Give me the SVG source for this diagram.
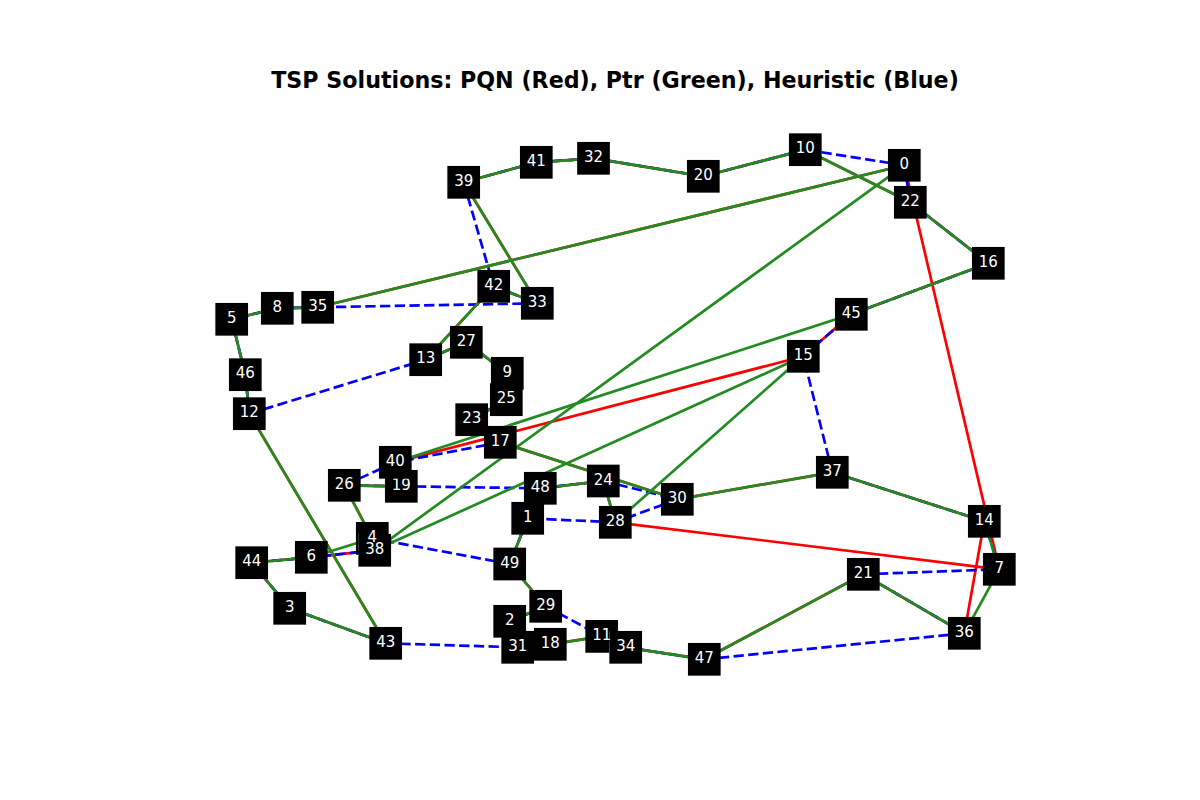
<svg xmlns="http://www.w3.org/2000/svg" width="1200" height="800" viewBox="0 0 1200 800">
<style>
.r{stroke:#ff0000;stroke-width:2.7;fill:none;stroke-linecap:round}
.b{stroke:#0000ff;stroke-width:2.7;fill:none;stroke-dasharray:10.3 4.4}
.g{stroke:#228b22;stroke-width:2.7;fill:none;stroke-linecap:round}
.box{fill:#000000}
.lbl{fill:#ffffff;font-family:"DejaVu Sans",sans-serif;font-size:15px;text-anchor:middle}
.title{fill:#000000;font-family:"DejaVu Sans",sans-serif;font-size:22.2px;font-weight:bold;text-anchor:middle}
</style>
<rect width="1200" height="800" fill="#ffffff"/>
<text class="title" x="615" y="87.5">TSP Solutions: PQN (Red), Ptr (Green), Heuristic (Blue)</text>
<g id="connectors">
<g id="pqn-red">
<line class="r" x1="904.3" y1="165.3" x2="317.7" y2="307.3"/>
<line class="r" x1="317.7" y1="307.3" x2="277.3" y2="308.3"/>
<line class="r" x1="277.3" y1="308.3" x2="231.7" y2="319.3"/>
<line class="r" x1="231.7" y1="319.3" x2="245.3" y2="374.7"/>
<line class="r" x1="245.3" y1="374.7" x2="249.3" y2="413.7"/>
<line class="r" x1="249.3" y1="413.7" x2="385.7" y2="643.3"/>
<line class="r" x1="385.7" y1="643.3" x2="289.7" y2="608.3"/>
<line class="r" x1="289.7" y1="608.3" x2="251.7" y2="562.7"/>
<line class="r" x1="251.7" y1="562.7" x2="311.3" y2="557.3"/>
<line class="r" x1="311.3" y1="557.3" x2="374.7" y2="550.3"/>
<line class="r" x1="374.7" y1="550.3" x2="372.3" y2="538.3"/>
<line class="r" x1="372.3" y1="538.3" x2="344.3" y2="485.3"/>
<line class="r" x1="344.3" y1="485.3" x2="401.3" y2="486.3"/>
<line class="r" x1="401.3" y1="486.3" x2="395.3" y2="462.3"/>
<line class="r" x1="395.3" y1="462.3" x2="803.3" y2="356.3"/>
<line class="r" x1="803.3" y1="356.3" x2="851.3" y2="314.3"/>
<line class="r" x1="851.3" y1="314.3" x2="988.3" y2="263.3"/>
<line class="r" x1="988.3" y1="263.3" x2="910.3" y2="202.3"/>
<line class="r" x1="910.3" y1="202.3" x2="805.3" y2="149.7"/>
<line class="r" x1="805.3" y1="149.7" x2="703.3" y2="176.3"/>
<line class="r" x1="703.3" y1="176.3" x2="593.5" y2="158.3"/>
<line class="r" x1="593.5" y1="158.3" x2="536.3" y2="162.3"/>
<line class="r" x1="536.3" y1="162.3" x2="463.7" y2="182.3"/>
<line class="r" x1="463.7" y1="182.3" x2="537.3" y2="303.3"/>
<line class="r" x1="537.3" y1="303.3" x2="493.7" y2="286.3"/>
<line class="r" x1="493.7" y1="286.3" x2="425.7" y2="359.7"/>
<line class="r" x1="425.7" y1="359.7" x2="466.3" y2="342.3"/>
<line class="r" x1="466.3" y1="342.3" x2="507.3" y2="373.3"/>
<line class="r" x1="507.3" y1="373.3" x2="506.3" y2="399.7"/>
<line class="r" x1="506.3" y1="399.7" x2="471.7" y2="419.7"/>
<line class="r" x1="471.7" y1="419.7" x2="500.3" y2="442.3"/>
<line class="r" x1="500.3" y1="442.3" x2="677.3" y2="499.3"/>
<line class="r" x1="677.3" y1="499.3" x2="832.3" y2="472.3"/>
<line class="r" x1="832.3" y1="472.3" x2="984.3" y2="521.3"/>
<line class="r" x1="984.3" y1="521.3" x2="964.3" y2="633.3"/>
<line class="r" x1="964.3" y1="633.3" x2="863.3" y2="574.3"/>
<line class="r" x1="863.3" y1="574.3" x2="704.3" y2="659.3"/>
<line class="r" x1="704.3" y1="659.3" x2="625.7" y2="647.3"/>
<line class="r" x1="625.7" y1="647.3" x2="601.7" y2="636.3"/>
<line class="r" x1="601.7" y1="636.3" x2="550.3" y2="644.3"/>
<line class="r" x1="550.3" y1="644.3" x2="517.7" y2="647.3"/>
<line class="r" x1="517.7" y1="647.3" x2="509.7" y2="621.3"/>
<line class="r" x1="509.7" y1="621.3" x2="545.7" y2="606.3"/>
<line class="r" x1="545.7" y1="606.3" x2="509.7" y2="564"/>
<line class="r" x1="509.7" y1="564" x2="527.7" y2="518.3"/>
<line class="r" x1="527.7" y1="518.3" x2="540.3" y2="488.3"/>
<line class="r" x1="540.3" y1="488.3" x2="603.3" y2="481"/>
<line class="r" x1="603.3" y1="481" x2="615.3" y2="522.3"/>
<line class="r" x1="615.3" y1="522.3" x2="999.3" y2="569.3"/>
<line class="r" x1="999.3" y1="569.3" x2="904.3" y2="165.3"/>
</g>
<g id="heuristic-blue">
<line class="b" x1="904.3" y1="165.3" x2="805.3" y2="149.7"/>
<line class="b" x1="805.3" y1="149.7" x2="703.3" y2="176.3"/>
<line class="b" x1="703.3" y1="176.3" x2="593.5" y2="158.3"/>
<line class="b" x1="593.5" y1="158.3" x2="536.3" y2="162.3"/>
<line class="b" x1="536.3" y1="162.3" x2="463.7" y2="182.3"/>
<line class="b" x1="463.7" y1="182.3" x2="493.7" y2="286.3"/>
<line class="b" x1="493.7" y1="286.3" x2="537.3" y2="303.3"/>
<line class="b" x1="537.3" y1="303.3" x2="317.7" y2="307.3"/>
<line class="b" x1="317.7" y1="307.3" x2="277.3" y2="308.3"/>
<line class="b" x1="277.3" y1="308.3" x2="231.7" y2="319.3"/>
<line class="b" x1="231.7" y1="319.3" x2="245.3" y2="374.7"/>
<line class="b" x1="245.3" y1="374.7" x2="249.3" y2="413.7"/>
<line class="b" x1="249.3" y1="413.7" x2="425.7" y2="359.7"/>
<line class="b" x1="425.7" y1="359.7" x2="466.3" y2="342.3"/>
<line class="b" x1="466.3" y1="342.3" x2="507.3" y2="373.3"/>
<line class="b" x1="507.3" y1="373.3" x2="506.3" y2="399.7"/>
<line class="b" x1="506.3" y1="399.7" x2="471.7" y2="419.7"/>
<line class="b" x1="471.7" y1="419.7" x2="500.3" y2="442.3"/>
<line class="b" x1="500.3" y1="442.3" x2="395.3" y2="462.3"/>
<line class="b" x1="395.3" y1="462.3" x2="344.3" y2="485.3"/>
<line class="b" x1="344.3" y1="485.3" x2="401.3" y2="486.3"/>
<line class="b" x1="401.3" y1="486.3" x2="540.3" y2="488.3"/>
<line class="b" x1="540.3" y1="488.3" x2="603.3" y2="481"/>
<line class="b" x1="603.3" y1="481" x2="677.3" y2="499.3"/>
<line class="b" x1="677.3" y1="499.3" x2="615.3" y2="522.3"/>
<line class="b" x1="615.3" y1="522.3" x2="527.7" y2="518.3"/>
<line class="b" x1="527.7" y1="518.3" x2="509.7" y2="564"/>
<line class="b" x1="509.7" y1="564" x2="372.3" y2="538.3"/>
<line class="b" x1="372.3" y1="538.3" x2="374.7" y2="550.3"/>
<line class="b" x1="374.7" y1="550.3" x2="311.3" y2="557.3"/>
<line class="b" x1="311.3" y1="557.3" x2="251.7" y2="562.7"/>
<line class="b" x1="251.7" y1="562.7" x2="289.7" y2="608.3"/>
<line class="b" x1="289.7" y1="608.3" x2="385.7" y2="643.3"/>
<line class="b" x1="385.7" y1="643.3" x2="517.7" y2="647.3"/>
<line class="b" x1="517.7" y1="647.3" x2="550.3" y2="644.3"/>
<line class="b" x1="550.3" y1="644.3" x2="509.7" y2="621.3"/>
<line class="b" x1="509.7" y1="621.3" x2="545.7" y2="606.3"/>
<line class="b" x1="545.7" y1="606.3" x2="601.7" y2="636.3"/>
<line class="b" x1="601.7" y1="636.3" x2="625.7" y2="647.3"/>
<line class="b" x1="625.7" y1="647.3" x2="704.3" y2="659.3"/>
<line class="b" x1="704.3" y1="659.3" x2="964.3" y2="633.3"/>
<line class="b" x1="964.3" y1="633.3" x2="863.3" y2="574.3"/>
<line class="b" x1="863.3" y1="574.3" x2="999.3" y2="569.3"/>
<line class="b" x1="999.3" y1="569.3" x2="984.3" y2="521.3"/>
<line class="b" x1="984.3" y1="521.3" x2="832.3" y2="472.3"/>
<line class="b" x1="832.3" y1="472.3" x2="803.3" y2="356.3"/>
<line class="b" x1="803.3" y1="356.3" x2="851.3" y2="314.3"/>
<line class="b" x1="851.3" y1="314.3" x2="988.3" y2="263.3"/>
<line class="b" x1="988.3" y1="263.3" x2="910.3" y2="202.3"/>
<line class="b" x1="910.3" y1="202.3" x2="904.3" y2="165.3"/>
</g>
<g id="ptr-green">
<line class="g" x1="904.3" y1="165.3" x2="317.7" y2="307.3"/>
<line class="g" x1="317.7" y1="307.3" x2="277.3" y2="308.3"/>
<line class="g" x1="277.3" y1="308.3" x2="231.7" y2="319.3"/>
<line class="g" x1="231.7" y1="319.3" x2="245.3" y2="374.7"/>
<line class="g" x1="245.3" y1="374.7" x2="249.3" y2="413.7"/>
<line class="g" x1="249.3" y1="413.7" x2="385.7" y2="643.3"/>
<line class="g" x1="385.7" y1="643.3" x2="289.7" y2="608.3"/>
<line class="g" x1="289.7" y1="608.3" x2="251.7" y2="562.7"/>
<line class="g" x1="251.7" y1="562.7" x2="311.3" y2="557.3"/>
<line class="g" x1="311.3" y1="557.3" x2="372.3" y2="538.3"/>
<line class="g" x1="372.3" y1="538.3" x2="344.3" y2="485.3"/>
<line class="g" x1="344.3" y1="485.3" x2="401.3" y2="486.3"/>
<line class="g" x1="401.3" y1="486.3" x2="395.3" y2="462.3"/>
<line class="g" x1="395.3" y1="462.3" x2="851.3" y2="314.3"/>
<line class="g" x1="851.3" y1="314.3" x2="988.3" y2="263.3"/>
<line class="g" x1="988.3" y1="263.3" x2="910.3" y2="202.3"/>
<line class="g" x1="910.3" y1="202.3" x2="805.3" y2="149.7"/>
<line class="g" x1="805.3" y1="149.7" x2="703.3" y2="176.3"/>
<line class="g" x1="703.3" y1="176.3" x2="593.5" y2="158.3"/>
<line class="g" x1="593.5" y1="158.3" x2="536.3" y2="162.3"/>
<line class="g" x1="536.3" y1="162.3" x2="463.7" y2="182.3"/>
<line class="g" x1="463.7" y1="182.3" x2="537.3" y2="303.3"/>
<line class="g" x1="537.3" y1="303.3" x2="493.7" y2="286.3"/>
<line class="g" x1="493.7" y1="286.3" x2="425.7" y2="359.7"/>
<line class="g" x1="425.7" y1="359.7" x2="466.3" y2="342.3"/>
<line class="g" x1="466.3" y1="342.3" x2="507.3" y2="373.3"/>
<line class="g" x1="507.3" y1="373.3" x2="506.3" y2="399.7"/>
<line class="g" x1="506.3" y1="399.7" x2="471.7" y2="419.7"/>
<line class="g" x1="471.7" y1="419.7" x2="500.3" y2="442.3"/>
<line class="g" x1="500.3" y1="442.3" x2="677.3" y2="499.3"/>
<line class="g" x1="677.3" y1="499.3" x2="832.3" y2="472.3"/>
<line class="g" x1="832.3" y1="472.3" x2="984.3" y2="521.3"/>
<line class="g" x1="984.3" y1="521.3" x2="999.3" y2="569.3"/>
<line class="g" x1="999.3" y1="569.3" x2="964.3" y2="633.3"/>
<line class="g" x1="964.3" y1="633.3" x2="863.3" y2="574.3"/>
<line class="g" x1="863.3" y1="574.3" x2="704.3" y2="659.3"/>
<line class="g" x1="704.3" y1="659.3" x2="625.7" y2="647.3"/>
<line class="g" x1="625.7" y1="647.3" x2="601.7" y2="636.3"/>
<line class="g" x1="601.7" y1="636.3" x2="550.3" y2="644.3"/>
<line class="g" x1="550.3" y1="644.3" x2="517.7" y2="647.3"/>
<line class="g" x1="517.7" y1="647.3" x2="509.7" y2="621.3"/>
<line class="g" x1="509.7" y1="621.3" x2="545.7" y2="606.3"/>
<line class="g" x1="545.7" y1="606.3" x2="509.7" y2="564"/>
<line class="g" x1="509.7" y1="564" x2="527.7" y2="518.3"/>
<line class="g" x1="527.7" y1="518.3" x2="540.3" y2="488.3"/>
<line class="g" x1="540.3" y1="488.3" x2="603.3" y2="481"/>
<line class="g" x1="603.3" y1="481" x2="615.3" y2="522.3"/>
<line class="g" x1="615.3" y1="522.3" x2="803.3" y2="356.3"/>
<line class="g" x1="803.3" y1="356.3" x2="374.7" y2="550.3"/>
<line class="g" x1="374.7" y1="550.3" x2="904.3" y2="165.3"/>
</g>
</g>
<g id="nodes">
<g id="node-0"><rect class="box" x="887.95" y="148.95" width="32.7" height="32.7"/><text class="lbl" x="904.3" y="169">0</text></g>
<g id="node-1"><rect class="box" x="511.35" y="501.95" width="32.7" height="32.7"/><text class="lbl" x="527.7" y="522">1</text></g>
<g id="node-2"><rect class="box" x="493.35" y="604.95" width="32.7" height="32.7"/><text class="lbl" x="509.7" y="625">2</text></g>
<g id="node-3"><rect class="box" x="273.35" y="591.95" width="32.7" height="32.7"/><text class="lbl" x="289.7" y="612">3</text></g>
<g id="node-38"><rect class="box" x="358.35" y="533.95" width="32.7" height="32.7"/><text class="lbl" x="374.7" y="554">38</text></g>
<g id="node-4"><path class="box" d="M355.95,521.95 H388.65 V533.95 H358.35 V554.65 H355.95 Z"/><text class="lbl" x="372.3" y="542">4</text></g>
<g id="node-5"><rect class="box" x="215.35" y="302.95" width="32.7" height="32.7"/><text class="lbl" x="231.7" y="323">5</text></g>
<g id="node-6"><rect class="box" x="294.95" y="540.95" width="32.7" height="32.7"/><text class="lbl" x="311.3" y="561">6</text></g>
<g id="node-7"><rect class="box" x="982.95" y="552.95" width="32.7" height="32.7"/><text class="lbl" x="999.3" y="573">7</text></g>
<g id="node-8"><rect class="box" x="260.95" y="291.95" width="32.7" height="32.7"/><text class="lbl" x="277.3" y="312">8</text></g>
<g id="node-9"><rect class="box" x="490.95" y="356.95" width="32.7" height="32.7"/><text class="lbl" x="507.3" y="377">9</text></g>
<g id="node-10"><rect class="box" x="788.95" y="133.35" width="32.7" height="32.7"/><text class="lbl" x="805.3" y="153.4">10</text></g>
<g id="node-34"><rect class="box" x="609.35" y="630.95" width="32.7" height="32.7"/><text class="lbl" x="625.7" y="651">34</text></g>
<g id="node-11"><path class="box" d="M585.35,619.95 H618.05 V630.95 H609.35 V652.65 H585.35 Z"/><text class="lbl" x="601.7" y="640">11</text></g>
<g id="node-12"><rect class="box" x="232.95" y="397.35" width="32.7" height="32.7"/><text class="lbl" x="249.3" y="417.4">12</text></g>
<g id="node-13"><rect class="box" x="409.35" y="343.35" width="32.7" height="32.7"/><text class="lbl" x="425.7" y="363.4">13</text></g>
<g id="node-14"><rect class="box" x="967.95" y="504.95" width="32.7" height="32.7"/><text class="lbl" x="984.3" y="525">14</text></g>
<g id="node-15"><rect class="box" x="786.95" y="339.95" width="32.7" height="32.7"/><text class="lbl" x="803.3" y="360">15</text></g>
<g id="node-16"><rect class="box" x="971.95" y="246.95" width="32.7" height="32.7"/><text class="lbl" x="988.3" y="267">16</text></g>
<g id="node-17"><rect class="box" x="483.95" y="425.95" width="32.7" height="32.7"/><text class="lbl" x="500.3" y="446">17</text></g>
<g id="node-18"><rect class="box" x="533.95" y="627.95" width="32.7" height="32.7"/><text class="lbl" x="550.3" y="648">18</text></g>
<g id="node-19"><rect class="box" x="384.95" y="469.95" width="32.7" height="32.7"/><text class="lbl" x="401.3" y="490">19</text></g>
<g id="node-20"><rect class="box" x="686.95" y="159.95" width="32.7" height="32.7"/><text class="lbl" x="703.3" y="180">20</text></g>
<g id="node-21"><rect class="box" x="846.95" y="557.95" width="32.7" height="32.7"/><text class="lbl" x="863.3" y="578">21</text></g>
<g id="node-22"><rect class="box" x="893.95" y="185.95" width="32.7" height="32.7"/><text class="lbl" x="910.3" y="206">22</text></g>
<g id="node-23"><rect class="box" x="455.35" y="403.35" width="32.7" height="32.7"/><text class="lbl" x="471.7" y="423.4">23</text></g>
<g id="node-24"><rect class="box" x="586.95" y="464.65" width="32.7" height="32.7"/><text class="lbl" x="603.3" y="484.7">24</text></g>
<g id="node-25"><rect class="box" x="489.95" y="383.35" width="32.7" height="32.7"/><text class="lbl" x="506.3" y="403.4">25</text></g>
<g id="node-26"><rect class="box" x="327.95" y="468.95" width="32.7" height="32.7"/><text class="lbl" x="344.3" y="489">26</text></g>
<g id="node-27"><rect class="box" x="449.95" y="325.95" width="32.7" height="32.7"/><text class="lbl" x="466.3" y="346">27</text></g>
<g id="node-28"><rect class="box" x="598.95" y="505.95" width="32.7" height="32.7"/><text class="lbl" x="615.3" y="526">28</text></g>
<g id="node-29"><rect class="box" x="529.35" y="589.95" width="32.7" height="32.7"/><text class="lbl" x="545.7" y="610">29</text></g>
<g id="node-30"><rect class="box" x="660.95" y="482.95" width="32.7" height="32.7"/><text class="lbl" x="677.3" y="503">30</text></g>
<g id="node-31"><rect class="box" x="501.35" y="630.95" width="32.7" height="32.7"/><text class="lbl" x="517.7" y="651">31</text></g>
<g id="node-32"><rect class="box" x="577.15" y="141.95" width="32.7" height="32.7"/><text class="lbl" x="593.5" y="162">32</text></g>
<g id="node-33"><rect class="box" x="520.95" y="286.95" width="32.7" height="32.7"/><text class="lbl" x="537.3" y="307">33</text></g>
<g id="node-35"><rect class="box" x="301.35" y="290.95" width="32.7" height="32.7"/><text class="lbl" x="317.7" y="311">35</text></g>
<g id="node-36"><rect class="box" x="947.95" y="616.95" width="32.7" height="32.7"/><text class="lbl" x="964.3" y="637">36</text></g>
<g id="node-37"><rect class="box" x="815.95" y="455.95" width="32.7" height="32.7"/><text class="lbl" x="832.3" y="476">37</text></g>
<g id="node-39"><rect class="box" x="447.35" y="165.95" width="32.7" height="32.7"/><text class="lbl" x="463.7" y="186">39</text></g>
<g id="node-40"><rect class="box" x="378.95" y="445.95" width="32.7" height="32.7"/><text class="lbl" x="395.3" y="466">40</text></g>
<g id="node-41"><rect class="box" x="519.95" y="145.95" width="32.7" height="32.7"/><text class="lbl" x="536.3" y="166">41</text></g>
<g id="node-42"><rect class="box" x="477.35" y="269.95" width="32.7" height="32.7"/><text class="lbl" x="493.7" y="290">42</text></g>
<g id="node-43"><rect class="box" x="369.35" y="626.95" width="32.7" height="32.7"/><text class="lbl" x="385.7" y="647">43</text></g>
<g id="node-44"><rect class="box" x="235.35" y="546.35" width="32.7" height="32.7"/><text class="lbl" x="251.7" y="566.4">44</text></g>
<g id="node-45"><rect class="box" x="834.95" y="297.95" width="32.7" height="32.7"/><text class="lbl" x="851.3" y="318">45</text></g>
<g id="node-46"><rect class="box" x="228.95" y="358.35" width="32.7" height="32.7"/><text class="lbl" x="245.3" y="378.4">46</text></g>
<g id="node-47"><rect class="box" x="687.95" y="642.95" width="32.7" height="32.7"/><text class="lbl" x="704.3" y="663">47</text></g>
<g id="node-48"><rect class="box" x="523.95" y="471.95" width="32.7" height="32.7"/><text class="lbl" x="540.3" y="492">48</text></g>
<g id="node-49"><rect class="box" x="493.35" y="547.65" width="32.7" height="32.7"/><text class="lbl" x="509.7" y="567.7">49</text></g>
</g>
</svg>
